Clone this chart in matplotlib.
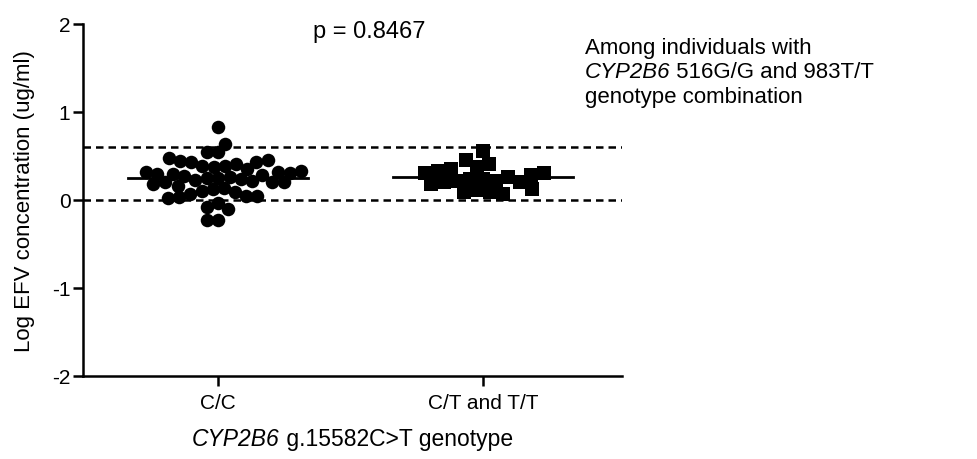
import numpy as np
import matplotlib
matplotlib.use("Agg")
import matplotlib.pyplot as plt

plt.rcParams['font.family'] = ['Liberation Sans', 'DejaVu Sans']

categories = ["C/C", "C/T and T/T"]
cc_values = [0.83, 0.64, 0.55, 0.54, 0.48, 0.45, 0.44, 0.43, 0.43, 0.41, 0.39, 0.39,
             0.37, 0.35, 0.33, 0.32, 0.32, 0.31, 0.30, 0.29, 0.28, 0.27, 0.26, 0.25,
             0.25, 0.24, 0.23, 0.22, 0.21, 0.20, 0.20, 0.18, 0.16, 0.14, 0.12, 0.10,
             0.09, 0.07, 0.05, 0.04, 0.03, 0.02, -0.03, -0.08, -0.10, -0.23, -0.23]
ct_values = [0.56, 0.45, 0.41, 0.37, 0.35, 0.33, 0.31, 0.31, 0.28, 0.26, 0.24, 0.24,
             0.22, 0.22, 0.20, 0.20, 0.18, 0.13, 0.11, 0.09, 0.09, 0.07]
medians = [0.25, 0.26]
ref_lines = [0.6, 0.0]
p_text = "p = 0.8467"

W, H = 977, 460
fig = plt.figure(figsize=(W / 100, H / 100), dpi=100)
ax = fig.add_axes([83 / W, 1 - 377 / H, (622 - 83) / W, (377 - 25) / H])
ax.set_xlim(-0.51, 1.525)
ax.set_ylim(-2, 2)


def swarm(values, xc, diam_px):
    # simple beeswarm in pixel space
    fig.canvas.draw()
    trans = ax.transData
    pts = np.array([[xc, v] for v in values])
    pix = trans.transform(pts)
    order = np.argsort(np.abs(np.array(values) - np.median(values)))
    placed = []
    xs = np.zeros(len(values))
    for i in order:
        y = pix[i, 1]
        cands = [0.0]
        for (px, py) in placed:
            dy = abs(py - y)
            if dy < diam_px:
                dx = np.sqrt(diam_px ** 2 - dy ** 2)
                cands += [px + dx, px - dx]
        cands = sorted(cands, key=lambda c: (abs(c), c))
        for c in cands:
            ok = True
            for (px, py) in placed:
                if (px - c) ** 2 + (py - y) ** 2 < diam_px ** 2 - 1e-6:
                    ok = False
                    break
            if ok:
                xs[i] = c
                placed.append((c, y))
                break
    xpix = pix[:, 0] + xs
    back = trans.inverted().transform(np.column_stack([xpix, pix[:, 1]]))
    return back[:, 0]

x_cc = swarm(cc_values, 0, 11.5)
x_ct = swarm(ct_values, 1, 13.0)

ax.scatter(x_cc, cc_values, s=95, marker='o', color='black', linewidths=0, zorder=3)
ax.scatter(x_ct, ct_values, s=90, marker='s', color='black', linewidths=0, zorder=3)

ax.plot([-0.34, 0.34], [medians[0]] * 2, color='black', lw=2, zorder=4)
ax.plot([1 - 0.34, 1 + 0.34], [medians[1]] * 2, color='black', lw=2, zorder=4)

for yv in ref_lines:
    ax.axhline(yv, color='black', lw=1.8, ls=(0, (3, 2)), zorder=2)

for s in ['top', 'right']:
    ax.spines[s].set_visible(False)
for s in ['left', 'bottom']:
    ax.spines[s].set_linewidth(1.8)

ax.set_yticks([-2, -1, 0, 1, 2])
ax.set_yticklabels(['-2', '-1', '0', '1', '2'])
ax.set_xticks([0, 1])
ax.set_xticklabels(categories)
ax.tick_params(axis='both', direction='out', length=7, width=1.8, labelsize=15, colors='black')
ax.tick_params(axis='y', pad=2)
ax.tick_params(axis='x', pad=5)

ax.set_ylabel("Log EFV concentration (ug/ml)", fontsize=16, labelpad=12)

ax.text(0.532, 0.98, p_text, transform=ax.transAxes, ha='center', va='center', fontsize=17)

# x label: italic gene name + regular text, centred under the axes
fs_x = 16.5
xl_y = 1 - 440 / H
xa = fig.text(0, xl_y, "CYP2B6", fontsize=fs_x, style='italic', ha='left', va='center')
xb = fig.text(0, xl_y, " g.15582C>T genotype", fontsize=fs_x, ha='left', va='center')
fig.canvas.draw()
wa = xa.get_window_extent().width
wb = xb.get_window_extent().width
cx = (83 + 622) / 2
x0 = cx - (wa + wb) / 2
xa.set_x(x0 / W)
xb.set_x((x0 + wa) / W)

fs_r = 16
fig.text(585 / W, 1 - 49 / H, "Among individuals with", fontsize=fs_r, va='center', ha='left')
t1 = fig.text(585 / W, 1 - 73 / H, "CYP2B6", fontsize=fs_r, va='center', ha='left', style='italic')
fig.canvas.draw()
bb = t1.get_window_extent()
fig.text(bb.x1 / W, 1 - 73 / H, " 516G/G and 983T/T", fontsize=fs_r, va='center', ha='left')
fig.text(585 / W, 1 - 97 / H, "genotype combination", fontsize=fs_r, va='center', ha='left')

fig.savefig("out.png", dpi=100)
